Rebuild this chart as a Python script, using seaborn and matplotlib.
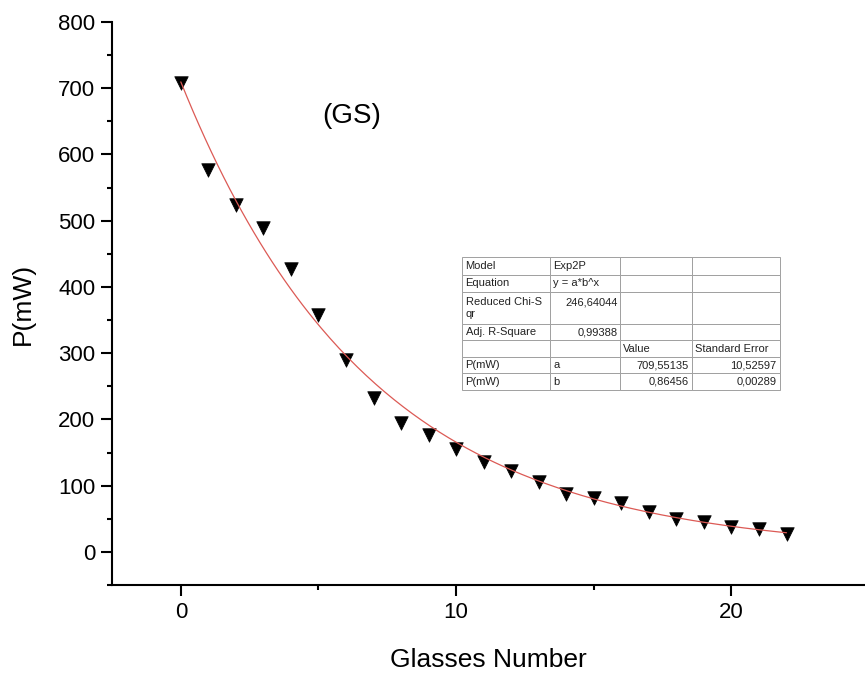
import numpy as np
import pandas as pd
import matplotlib
matplotlib.use("Agg")
import matplotlib.pyplot as plt
from matplotlib.ticker import MultipleLocator
import seaborn as sns

glasses = list(range(23))
power_mw = [708, 577, 524, 489, 427, 358, 290, 233, 195, 176, 156, 135,
            122, 105, 87, 82, 74, 60, 49, 45, 37, 34, 27]

# Exp2P fit parameters, y = a*b^x
fit_a = 709.55135
fit_b = 0.86456

# fit report table
table_rows = [
    ["Model", "Exp2P", "", ""],
    ["Equation", "y = a*b^x", "", ""],
    ["Reduced Chi-S\nqr", "246,64044\n ", "", ""],
    ["Adj. R-Square", "0,99388", "", ""],
    ["", "", "Value", "Standard Error"],
    ["P(mW)", "a", "709,55135", "10,52597"],
    ["P(mW)", "b", "0,86456", "0,00289"],
]

sns.set_style("ticks")
plt.rcParams["font.family"] = ["Liberation Sans", "DejaVu Sans"]
plt.rcParams.update({"text.color": "black", "axes.labelcolor": "black",
                     "xtick.color": "black", "ytick.color": "black"})

df = pd.DataFrame({"glasses": glasses, "power": power_mw})
x_fit = np.linspace(0, max(glasses), 200)
df_fit = pd.DataFrame({"glasses": x_fit, "power": fit_a * fit_b ** x_fit})

fig = plt.figure(figsize=(8.65, 6.74), dpi=100)
ax = fig.add_axes([112 / 865, 89 / 674, 753 / 865, 563 / 674])

sns.scatterplot(data=df, x="glasses", y="power", marker="v", s=95,
                color="black", edgecolor="black", linewidth=0.5, ax=ax, zorder=2)
sns.lineplot(data=df_fit, x="glasses", y="power", color="#dc5a55",
             linewidth=0.9, ax=ax, zorder=3)

ax.set_xlim(-2.5, 24.85)
ax.set_ylim(-50, 800)
ax.xaxis.set_major_locator(MultipleLocator(10))
ax.xaxis.set_minor_locator(MultipleLocator(5))
ax.yaxis.set_major_locator(MultipleLocator(100))
ax.yaxis.set_minor_locator(MultipleLocator(50))

sns.despine(ax=ax)
for side in ["left", "bottom"]:
    ax.spines[side].set_linewidth(1.5)
    ax.spines[side].set_color("black")
ax.tick_params(which="major", length=8, width=1.5, labelsize=16, pad=4)
ax.tick_params(which="minor", length=3.8, width=1.5)

ax.set_xlabel("Glasses Number", fontsize=19, labelpad=18)
ax.set_ylabel("P(mW)", fontsize=19, labelpad=17)

ax.text(6.2, 658, "(GS)", fontsize=20, ha="center", va="center")

# fit report inset
tbl = ax.table(cellText=table_rows, cellLoc="left",
               bbox=[0.4648, 0.3464, 0.4223, 0.2362], zorder=5)
tbl.auto_set_font_size(False)
tbl.set_fontsize(8)
col_w = [88, 70, 71, 88]
row_h = [18, 16.7, 32.3, 16.5, 16.5, 16.5, 16.5]
numeric = {(2, 1), (3, 1), (5, 2), (5, 3), (6, 2), (6, 3)}
for (r, c), cell in tbl.get_celld().items():
    cell.set_width(col_w[c])
    cell.set_height(row_h[r])
    cell.set_edgecolor("#a0a0a0")
    cell.set_linewidth(0.7)
    cell.PAD = 0.04
    cell.get_text().set_color("#222222")
    if (r, c) in numeric:
        cell.get_text().set_ha("right")
        cell._loc = "right"

fig.savefig("out.png", dpi=100)
